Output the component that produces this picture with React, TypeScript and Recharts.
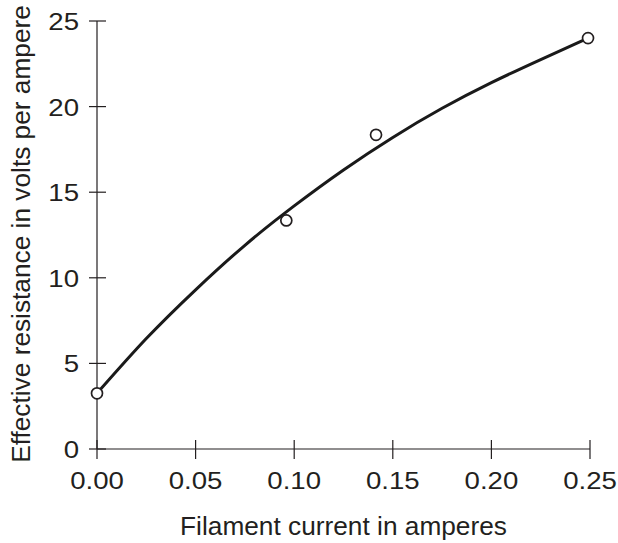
import { ComposedChart, Line, Scatter, XAxis, YAxis } from 'recharts'

const INK = '#231f20'
const FONT = '"Liberation Sans", Arial, Helvetica, sans-serif'

const xTicks = [0, 0.05, 0.1, 0.15, 0.2, 0.25]
const yTicks = [0, 5, 10, 15, 20, 25]

// measured points: filament current (A) vs effective resistance (V/A)
const measuredCurrent = [0, 0.096, 0.1415, 0.249]
const measuredResistance = [3.25, 13.35, 18.35, 24.0]

// fitted curve
const curveCurrent = [0, 0.025, 0.05, 0.075, 0.1, 0.125, 0.15, 0.175, 0.2, 0.225, 0.249]
const curveResistance = [3.25, 6.45, 9.3, 11.9, 14.2, 16.3, 18.2, 19.9, 21.4, 22.75, 24.0]

const points = measuredCurrent.map((x, i) => ({ x, y: measuredResistance[i] }))
const curve = curveCurrent.map((x, i) => ({ x, y: curveResistance[i] }))

const TICK = 10

function XTick(props: any) {
  const { x, y, payload } = props
  const axisY = y - TICK
  return (
    <g>
      <line x1={x} x2={x} y1={axisY - 9} y2={axisY + 10} stroke={INK} strokeWidth={1.2} />
      <text
        transform={`translate(${x},${axisY + 40}) scale(1.15,1)`}
        textAnchor="middle"
        fontSize={24}
        fontFamily={FONT}
        fill={INK}
      >
        {Number(payload.value).toFixed(2)}
      </text>
    </g>
  )
}

function YTick(props: any) {
  const { x, y, payload } = props
  const axisX = x + TICK
  return (
    <g>
      <line x1={axisX - 8} x2={axisX + 9} y1={y} y2={y} stroke={INK} strokeWidth={1.2} />
      <text
        transform={`translate(${axisX - 18},${y + 9}) scale(1.15,1)`}
        textAnchor="end"
        fontSize={24}
        fontFamily={FONT}
        fill={INK}
      >
        {payload.value}
      </text>
    </g>
  )
}

function XTitle(props: any) {
  const { viewBox } = props
  const cx = viewBox.x + viewBox.width / 2
  return (
    <text
      transform={`translate(${cx},${viewBox.y + 86}) scale(1.03,1)`}
      textAnchor="middle"
      fontSize={25.5}
      fontFamily={FONT}
      fill={INK}
    >
      Filament current in amperes
    </text>
  )
}

function YTitle(props: any) {
  const { viewBox } = props
  const cy = viewBox.y + viewBox.height / 2 - 1
  return (
    <text
      transform={`translate(30,${cy}) rotate(-90) scale(1.01,1)`}
      textAnchor="middle"
      fontSize={26}
      fontFamily={FONT}
      fill={INK}
    >
      Effective resistance in volts per ampere
    </text>
  )
}

const Marker = (props: any) => (
  <circle cx={props.cx} cy={props.cy} r={5.5} fill="#ffffff" stroke={INK} strokeWidth={1.7} />
)

export default function App() {
  return (
    <div style={{ position: 'absolute', left: 0, top: 0, width: 618, height: 543, background: '#ffffff' }}>
      <ComposedChart width={618} height={543} margin={{ top: 21, right: 28, bottom: 0, left: 0 }}>
        <XAxis
          type="number"
          dataKey="x"
          domain={[0, 0.25]}
          ticks={xTicks}
          interval={0}
          height={94}
          tickSize={TICK}
          tickMargin={0}
          tickLine={false}
          axisLine={{ stroke: INK, strokeWidth: 1.2 }}
          tick={<XTick />}
          label={<XTitle />}
        />
        <YAxis
          type="number"
          dataKey="y"
          domain={[0, 25]}
          ticks={yTicks}
          interval={0}
          width={97}
          tickSize={TICK}
          tickMargin={0}
          tickLine={false}
          axisLine={{ stroke: INK, strokeWidth: 1.2 }}
          tick={<YTick />}
          label={<YTitle />}
        />
        <Line
          data={curve}
          dataKey="y"
          type="natural"
          stroke="#1a1a1a"
          strokeWidth={3}
          dot={false}
          activeDot={false}
          isAnimationActive={false}
        />
        <Scatter data={points} dataKey="y" shape={<Marker />} isAnimationActive={false} />
      </ComposedChart>
    </div>
  )
}
